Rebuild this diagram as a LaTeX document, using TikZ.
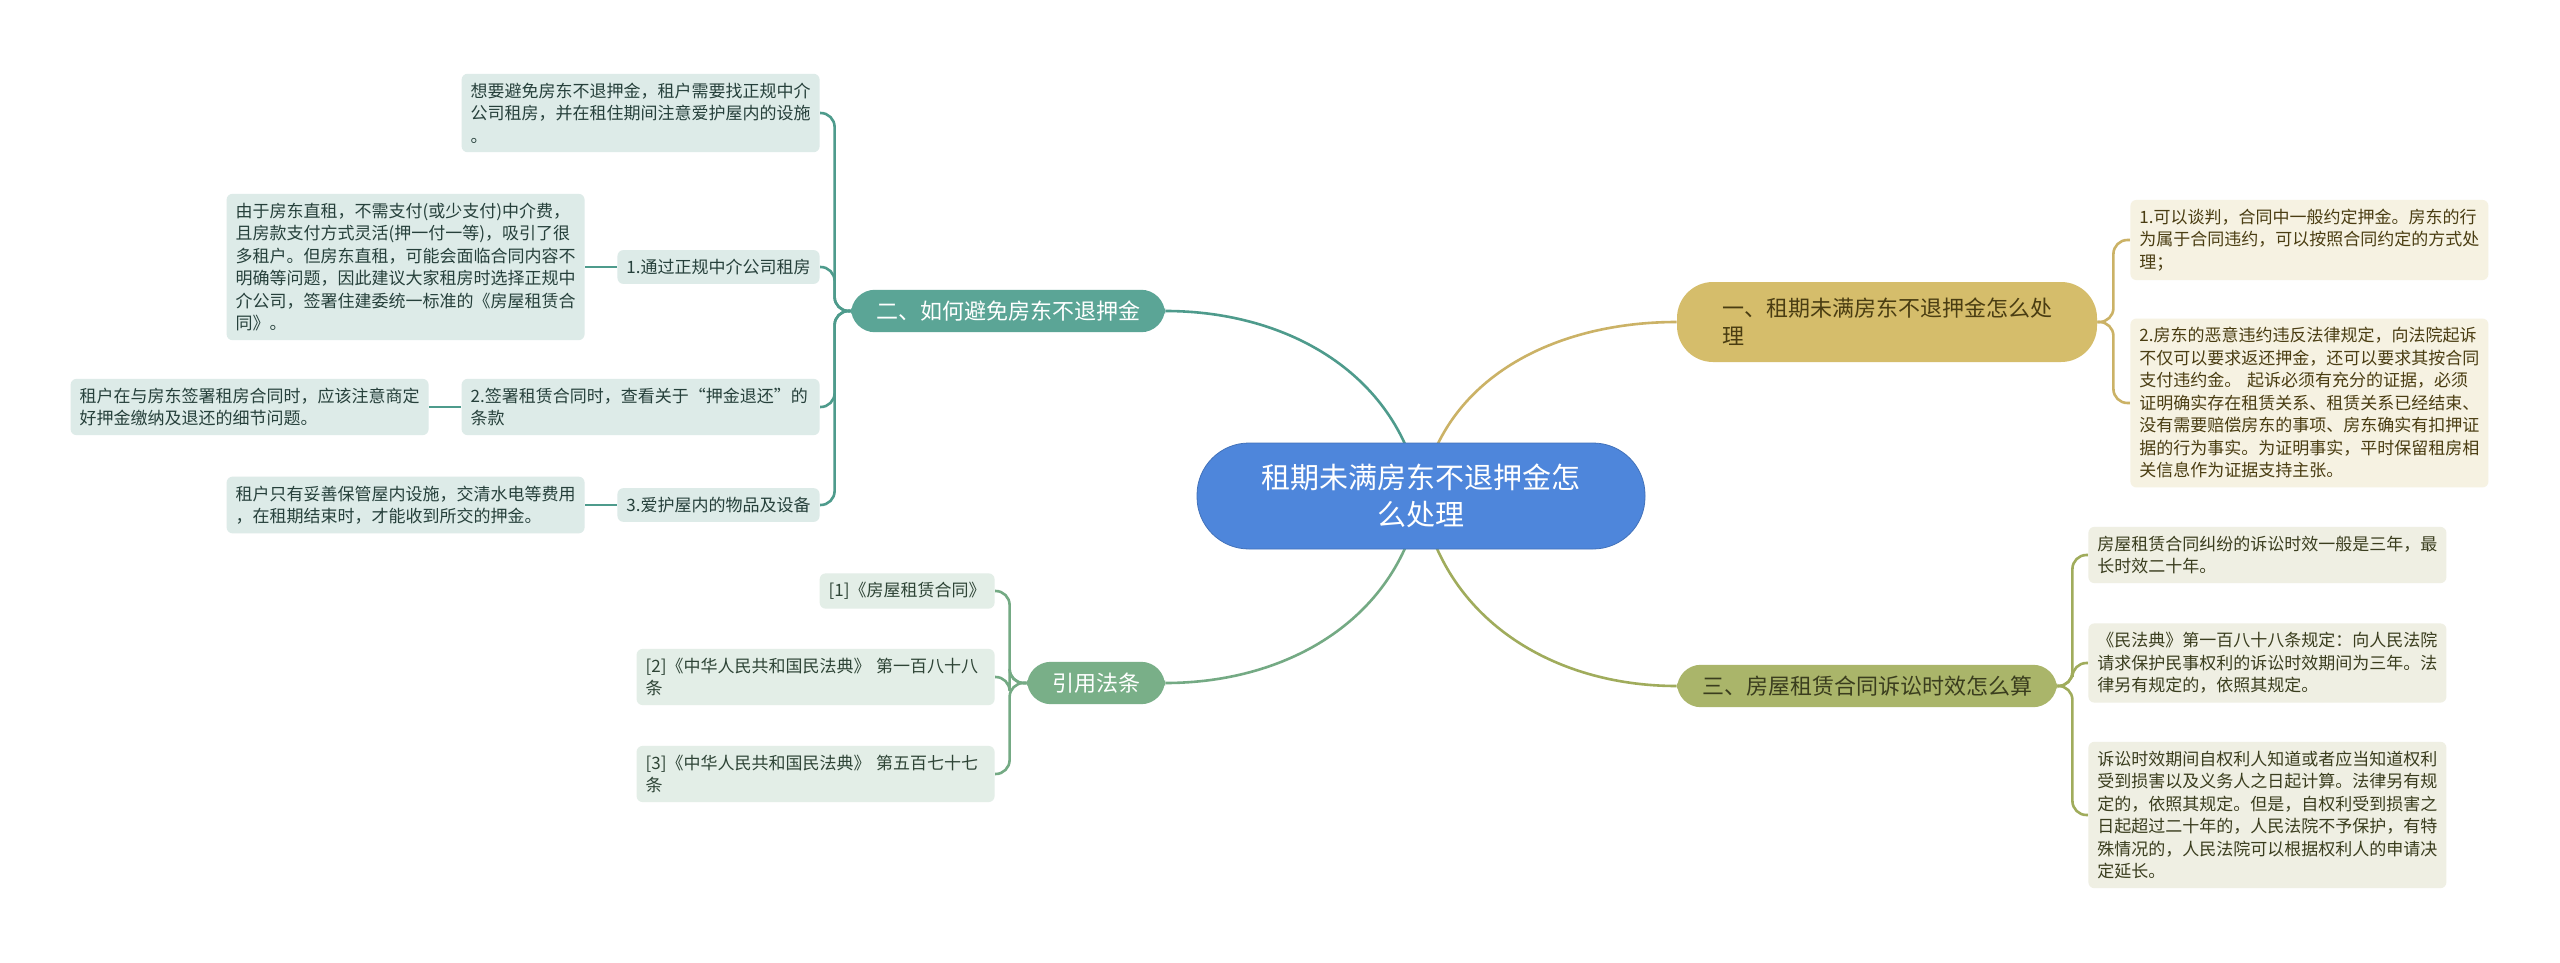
\documentclass[tikz,border=0pt]{standalone}
\usepackage{fontspec}
\setmainfont{Noto Sans CJK SC}
\usepackage{tikz}
\usetikzlibrary{backgrounds}

\definecolor{rootblue}{HTML}{4E86DB}
\definecolor{goldfill}{HTML}{D5BD6B}
\definecolor{goldline}{HTML}{CBB266}
\definecolor{goldleaf}{HTML}{F6F2E2}
\definecolor{goldtext}{HTML}{4A3D12}
\definecolor{tealfill}{HTML}{5BA596}
\definecolor{tealline}{HTML}{4E9B8C}
\definecolor{tealleaf}{HTML}{DDEBE8}
\definecolor{tealtext}{HTML}{26403B}
\definecolor{olivefill}{HTML}{AAB56A}
\definecolor{oliveline}{HTML}{A0AC5C}
\definecolor{oliveleaf}{HTML}{EFEFE3}
\definecolor{olivetext}{HTML}{3A3D1E}
\definecolor{greenfill}{HTML}{79AF88}
\definecolor{greenline}{HTML}{74AA84}
\definecolor{greenleaf}{HTML}{E3EEE7}
\definecolor{greentext}{HTML}{2E4436}

\tikzset{
  root/.style={fill=rootblue, draw=rootblue!85!black, rounded corners=26pt,
    minimum width=224pt, minimum height=53pt, align=center, text=white,
    font=\fontsize{14.5}{18.5}\selectfont},
  topic/.style={rounded corners=12pt, inner xsep=12.5pt, inner ysep=5.5pt,
    align=left, font=\fontsize{11}{14}\selectfont},
  note/.style={rounded corners=3pt, inner xsep=4.5pt, inner ysep=4.5pt,
    align=left, font=\fontsize{8.5}{11.25}\selectfont},
  wide/.style={note, text width=170pt},
  link/.style={line width=1.3pt},
}

\begin{document}
\begin{tikzpicture}[x=0.5pt, y=-0.5pt]
  \useasboundingbox (0,0) rectangle (2560,963);

  % centre and main topics
  \node[root] (c) at (1421,496) {租期未满房东不退押金怎\\么处理};
  \node[topic, fill=goldfill, text=goldtext, minimum width=210pt,
    minimum height=40pt, rounded corners=18pt] (b1) at (1887,322)
    {一、租期未满房东不退押金怎么处\\理};
  \node[topic, fill=tealfill, text=white] (b2) at (1008,311) {二、如何避免房东不退押金};
  \node[topic, fill=olivefill, text=olivetext] (b3) at (1867,686) {三、房屋租赁合同诉讼时效怎么算};
  \node[topic, fill=greenfill, text=white] (b4) at (1096,683) {引用法条};

  % left: how to avoid
  \tikzset{every node/.append style={fill=tealleaf, text=tealtext}}
  \node[wide, anchor=east] (t1) at (820,113)
    {想要避免房东不退押金，租户需要找正规中介\\公司租房，并在租住期间注意爱护屋内的设施\\。};
  \node[note, anchor=east] (s1) at (820,267) {1.通过正规中介公司租房};
  \node[wide, anchor=east] (l1) at (585,267)
    {由于房东直租，不需支付(或少支付)中介费，\\且房款支付方式灵活(押一付一等)，吸引了很\\多租户。但房东直租，可能会面临合同内容不\\明确等问题，因此建议大家租房时选择正规中\\介公司，签署住建委统一标准的《房屋租赁合\\同》。};
  \node[wide, anchor=east] (s2) at (820,407) {2.签署租赁合同时，查看关于“押金退还”的\\条款};
  \node[wide, anchor=east] (l2) at (429,407)
    {租户在与房东签署租房合同时，应该注意商定\\好押金缴纳及退还的细节问题。};
  \node[note, anchor=east] (s3) at (820,505) {3.爱护屋内的物品及设备};
  \node[wide, anchor=east] (l3) at (585,505)
    {租户只有妥善保管屋内设施，交清水电等费用\\，在租期结束时，才能收到所交的押金。};

  % right: first topic
  \tikzset{every node/.append style={fill=goldleaf, text=goldtext}}
  \node[wide, anchor=west] (g1) at (2130,240)
    {1.可以谈判，合同中一般约定押金。房东的行\\为属于合同违约，可以按照合同约定的方式处\\理；};
  \node[wide, anchor=west] (g2) at (2130,403)
    {2.房东的恶意违约违反法律规定，向法院起诉\\不仅可以要求返还押金，还可以要求其按合同\\支付违约金。 起诉必须有充分的证据，必须\\证明确实存在租赁关系、租赁关系已经结束、\\没有需要赔偿房东的事项、房东确实有扣押证\\据的行为事实。为证明事实，平时保留租房相\\关信息作为证据支持主张。};

  % right: third topic
  \tikzset{every node/.append style={fill=oliveleaf, text=olivetext}}
  \node[wide, anchor=west] (o1) at (2088,555)
    {房屋租赁合同纠纷的诉讼时效一般是三年，最\\长时效二十年。};
  \node[wide, anchor=west] (o2) at (2088,663)
    {《民法典》第一百八十八条规定：向人民法院\\请求保护民事权利的诉讼时效期间为三年。法\\律另有规定的，依照其规定。};
  \node[wide, anchor=west] (o3) at (2088,815)
    {诉讼时效期间自权利人知道或者应当知道权利\\受到损害以及义务人之日起计算。法律另有规\\定的，依照其规定。但是，自权利受到损害之\\日起超过二十年的，人民法院不予保护，有特\\殊情况的，人民法院可以根据权利人的申请决\\定延长。};

  % left: references
  \tikzset{every node/.append style={fill=greenleaf, text=greentext}}
  \node[note, anchor=east] (r1) at (995,591) {[1]《房屋租赁合同》};
  \node[wide, anchor=east] (r2) at (995,677) {[2]《中华人民共和国民法典》 第一百八十八\\条};
  \node[wide, anchor=east] (r3) at (995,774) {[3]《中华人民共和国民法典》 第五百七十七\\条};

  \begin{scope}[on background layer]
    \fill[white] (0,0) rectangle (2560,963);
    \draw[link, tealline] (c.center) to[out=100, in=0] (b2.east);
    \draw[link, goldline] (c.center) to[out=80, in=180] (b1.west);
    \draw[link, greenline] (c.center) to[out=-100, in=0] (b4.east);
    \draw[link, oliveline] (c.center) to[out=-80, in=180] (b3.west);
    \foreach \n in {t1,s1,s2,s3}
      \draw[link, tealline, rounded corners=7pt] (b2.west) -- ++(-16,0) |- (\n.east);
    \draw[link, tealline] (s1.west) -- (l1.east);
    \draw[link, tealline] (s2.west) -- (l2.east);
    \draw[link, tealline] (s3.west) -- (l3.east);
    \foreach \n in {g1,g2}
      \draw[link, goldline, rounded corners=7pt] (b1.east) -- ++(16,0) |- (\n.west);
    \foreach \n in {o1,o2,o3}
      \draw[link, oliveline, rounded corners=7pt] (b3.east) -- ++(15,0) |- (\n.west);
    \foreach \n in {r1,r2,r3}
      \draw[link, greenline, rounded corners=7pt] (b4.west) -- ++(-17,0) |- (\n.east);
  \end{scope}
\end{tikzpicture}
\end{document}
